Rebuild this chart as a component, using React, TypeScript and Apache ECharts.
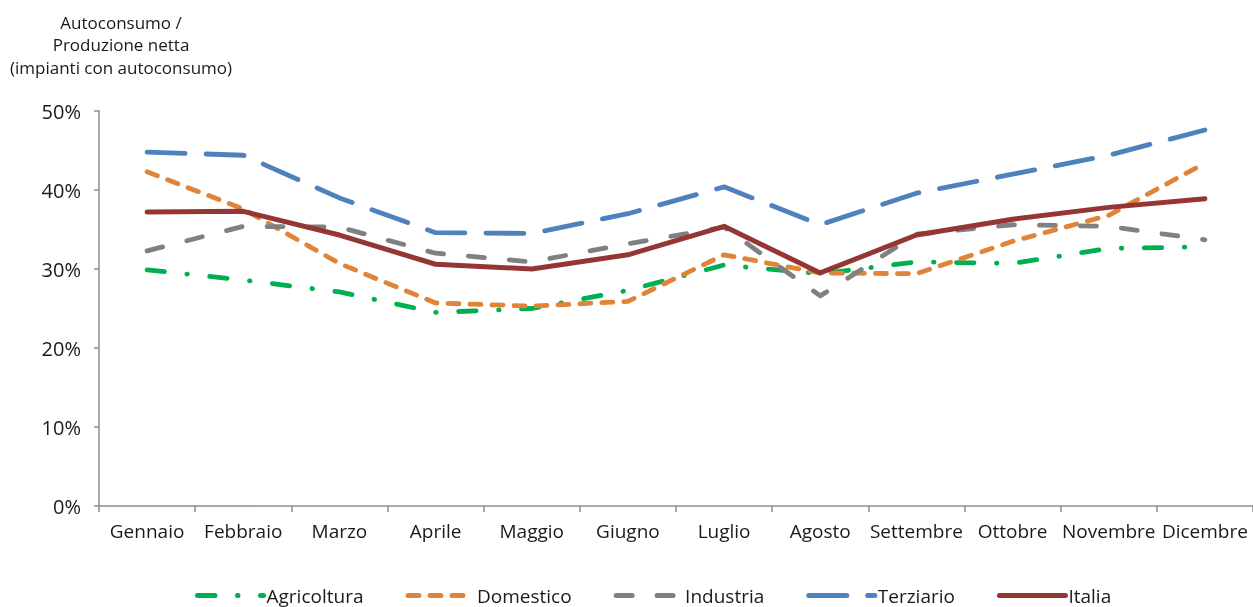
import React, { useEffect, useRef } from "react";
import * as echarts from "echarts";

const months = ["Gennaio","Febbraio","Marzo","Aprile","Maggio","Giugno","Luglio","Agosto","Settembre","Ottobre","Novembre","Dicembre"];
const agricoltura = [29.9, 28.6, 27.1, 24.5, 25.0, 27.3, 30.5, 29.4, 30.9, 30.7, 32.6, 32.8];
const domestico = [42.3, 37.6, 30.7, 25.7, 25.3, 25.9, 31.8, 29.5, 29.4, 33.5, 36.8, 43.4];
const industria = [32.3, 35.4, 35.3, 32.0, 30.9, 33.2, 35.3, 26.6, 34.4, 35.6, 35.4, 33.7];
const terziario = [44.8, 44.4, 39.0, 34.6, 34.5, 37.0, 40.4, 35.6, 39.6, 42.0, 44.4, 47.6];
const italia = [37.2, 37.3, 34.3, 30.6, 30.0, 31.8, 35.4, 29.5, 34.3, 36.3, 37.8, 38.9];
const yTicks = [0, 10, 20, 30, 40, 50];
const titleText = "Autoconsumo /\nProduzione netta\n(impianti con autoconsumo)";

const FONT = "'Open Sans', 'Noto Sans', sans-serif";

export default function App() {
  const ref = useRef<HTMLDivElement>(null);
  useEffect(() => {
    if (!ref.current) return;
    const chart = echarts.init(ref.current, null, { renderer: "svg" });
    const mk = (name: string, data: number[], color: string, type: any, width = 4.8) => ({
      name,
      type: "line",
      data,
      symbol: "none",
      smooth: false,
      lineStyle: { color, width, type, cap: "round", join: "round" },
      itemStyle: { color },
    });
    chart.setOption({
      animation: false,
      textStyle: { fontFamily: FONT },
      graphic: [
        {
          type: "text",
          x: 121,
          y: 11,
          style: {
            text: titleText,
            textAlign: "center",
            textVerticalAlign: "top",
            fontSize: 17,
            lineHeight: 22.5,
            fill: "#1a1a1a",
            fontFamily: FONT,
          },
        },
      ],
      grid: { left: 99, top: 111, width: 1159, height: 395, containLabel: false },
      legend: {
        left: 190,
        top: 581,
        itemWidth: 66,
        itemHeight: 14,
        itemGap: 42,
        itemStyle: { opacity: 0 },
        lineStyle: { width: 5, cap: "round" },
        textStyle: { fontSize: 19, color: "#1a1a1a", fontFamily: FONT, padding: [0, 0, 0, -2] },
        data: ["Agricoltura", "Domestico", "Industria", "Terziario", "Italia"],
      },
      xAxis: {
        type: "category",
        data: months,
        boundaryGap: true,
        axisLine: { lineStyle: { color: "#8c8c8c", width: 1.5 } },
        axisTick: { show: true, length: 6, lineStyle: { color: "#8c8c8c", width: 1.5 } },
        axisLabel: { fontSize: 19, color: "#1a1a1a", margin: 15, interval: 0 },
      },
      yAxis: {
        type: "value",
        min: yTicks[0],
        max: yTicks[yTicks.length - 1],
        interval: 10,
        splitLine: { show: false },
        axisLine: { show: true, lineStyle: { color: "#8c8c8c", width: 1.5 } },
        axisTick: { show: true, length: 5, lineStyle: { color: "#8c8c8c", width: 1.5 } },
        axisLabel: { fontSize: 20, color: "#1a1a1a", margin: 18, formatter: "{value}%" },
      },
      series: [
        mk("Agricoltura", agricoltura, "#00B050", [17.5, 22.5, 0.5, 22.5]),
        mk("Domestico", domestico, "#E0843A", [11, 11]),
        mk("Industria", industria, "#808080", [16, 25]),
        mk("Terziario", terziario, "#4F81BD", [38, 21]),
        mk("Italia", italia, "#943634", "solid", 5),
      ],
    });
    return () => chart.dispose();
  }, []);
  return (
    <div
      ref={ref}
      style={{ position: "fixed", left: 0, top: 0, width: 1253, height: 607 }}
    />
  );
}
